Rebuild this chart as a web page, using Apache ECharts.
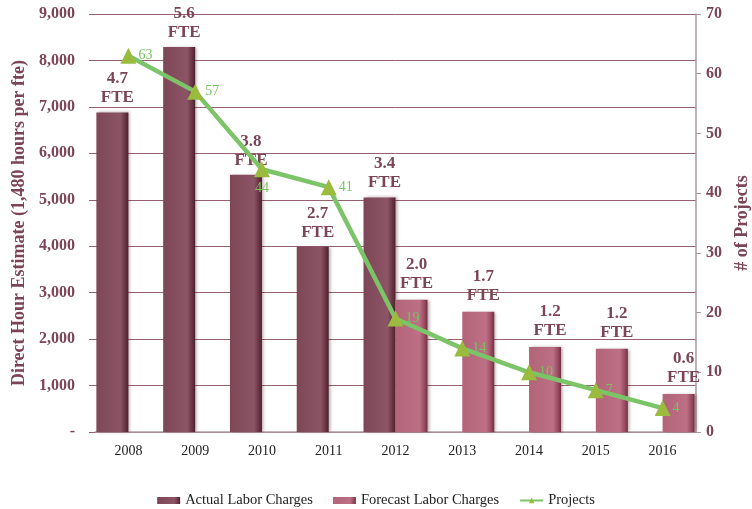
<!DOCTYPE html>
<html>
<head>
<meta charset="utf-8">
<script src="https://cdn.jsdelivr.net/npm/echarts@6/dist/echarts.min.js"></script>
<style>
  html, body { margin: 0; padding: 0; background: #fff; }
  #chart { width: 752px; height: 509px; }
</style>
</head>
<body>
<div id="chart"></div>
<script>
var years = ['2008', '2009', '2010', '2011', '2012', '2013', '2014', '2015', '2016']
var actualHours = [6880, 8290, 5540, 3990, 5050, null, null, null, null]
var forecastHours = [null, null, null, null, 2850, 2590, 1830, 1790, 820]
var actualFte = ['4.7', '5.6', '3.8', '2.7', '3.4', '', '', '', '']
var forecastFte = ['', '', '', '', '2.0', '1.7', '1.2', '1.2', '0.6']
var projects = [63, 57, 44, 41, 19, 14, 10, 7, 4]

var maroon = '#7b4556'
var serif = 'Liberation Serif'

var chart = echarts.init(document.getElementById('chart'))

var option = {
    textStyle: { fontFamily: serif },
    animation: false,
    grid: { left: 95, right: 56, top: 14, bottom: 77, outerBoundsMode: 'none', containLabel: false },
    legend: {
        top: 488,
        left: 'center',
        itemGap: 20,
        itemWidth: 23,
        itemHeight: 7,
        textStyle: { fontFamily: serif, fontSize: 14.5, color: '#222' },
        data: [
            { name: 'Actual Labor Charges', icon: 'rect' },
            { name: 'Forecast Labor Charges', icon: 'rect' },
            { name: 'Projects' },
        ],
    },
    xAxis: {
        type: 'category',
        data: years,
        axisTick: { show: false },
        axisLine: { lineStyle: { color: '#b49ea6', width: 1.5 } },
        axisLabel: { color: '#222', fontSize: 14, fontFamily: serif, margin: 12 },
    },
    yAxis: [
        {
            type: 'value',
            min: 0,
            max: 9000,
            interval: 1000,
            name: 'Direct Hour Estimate (1,480 hours per fte)',
            nameLocation: 'middle',
            nameGap: 67,
            nameTextStyle: { color: maroon, fontSize: 18, fontWeight: 'bold', fontFamily: serif },
            axisLine: { show: false },
            axisTick: { show: true, length: 6, lineStyle: { color: '#96606f' } },
            splitLine: { lineStyle: { color: '#96606f', width: 1 } },
            axisLabel: {
                color: maroon,
                fontSize: 16,
                fontWeight: 'bold',
                fontFamily: serif,
                margin: 20,
                formatter: function (v) {
                    return v === 0 ? '-' : v.toLocaleString('en-US')
                },
            },
        },
        {
            type: 'value',
            min: 0,
            max: 70,
            interval: 10,
            position: 'right',
            name: '# of Projects',
            nameLocation: 'middle',
            nameGap: 34,
            nameTextStyle: { color: maroon, fontSize: 18, fontWeight: 'bold', fontFamily: serif },
            axisLine: { show: true, lineStyle: { color: '#a8999e', width: 1.5 } },
            axisTick: { show: true, length: 5, lineStyle: { color: '#a8999e' } },
            splitLine: { show: false },
            axisLabel: { color: maroon, fontSize: 16, fontWeight: 'bold', fontFamily: serif, margin: 10 },
        },
    ],
    series: [
        {
            name: 'Actual Labor Charges',
            type: 'bar',
            barWidth: 32,
            barGap: '0%',
            data: actualHours,
            itemStyle: {
                color: new echarts.graphic.LinearGradient(0, 0, 1, 0, [
                    { offset: 0, color: '#7e4757' },
                    { offset: 0.75, color: '#8c5566' },
                    { offset: 0.9, color: '#6a3444' },
                    { offset: 1, color: '#4a2230' },
                ]),
                shadowColor: 'rgba(60,20,30,0.35)',
                shadowBlur: 3,
                shadowOffsetX: 2,
            },
            label: {
                show: true,
                position: 'top',
                distance: 5,
                offset: [5, 0],
                color: maroon,
                fontSize: 17,
                fontWeight: 'bold',
                fontFamily: serif,
                lineHeight: 19,
                formatter: function (p) {
                    return actualFte[p.dataIndex] + '\nFTE'
                },
            },
        },
        {
            name: 'Forecast Labor Charges',
            type: 'bar',
            barWidth: 32,
            data: forecastHours,
            itemStyle: {
                color: new echarts.graphic.LinearGradient(0, 0, 1, 0, [
                    { offset: 0, color: '#b26479' },
                    { offset: 0.75, color: '#bd7085' },
                    { offset: 0.9, color: '#9a4d62' },
                    { offset: 1, color: '#6e3040' },
                ]),
                shadowColor: 'rgba(60,20,30,0.35)',
                shadowBlur: 3,
                shadowOffsetX: 2,
            },
            label: {
                show: true,
                position: 'top',
                distance: 7,
                offset: [5, 0],
                color: maroon,
                fontSize: 17,
                fontWeight: 'bold',
                fontFamily: serif,
                lineHeight: 19,
                formatter: function (p) {
                    return forecastFte[p.dataIndex] + '\nFTE'
                },
            },
        },
        {
            name: 'Projects',
            type: 'line',
            yAxisIndex: 1,
            data: projects.map(function (v, i) {
                return i === 2 ? { value: v, label: { position: 'bottom', distance: 4 } } : v
            }),
            symbol: 'triangle',
            symbolSize: 16,
            lineStyle: { color: '#7cc468', width: 4.5 },
            itemStyle: { color: '#9bbb3f' },
            label: {
                show: true,
                position: 'right',
                distance: 2,
                color: '#77c35f',
                fontSize: 14,
                fontFamily: serif,
            },
            z: 5,
        },
    ],
}

option && chart.setOption(option)
</script>
</body>
</html>
